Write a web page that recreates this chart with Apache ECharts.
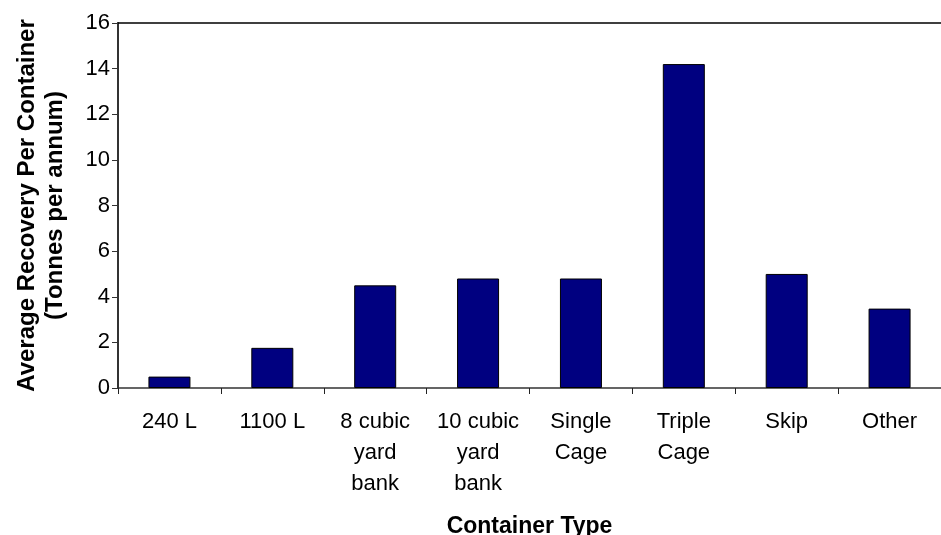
<!DOCTYPE html>
<html>
<head>
<meta charset="utf-8">
<script src="https://cdn.jsdelivr.net/npm/echarts@6/dist/echarts.min.js"></script>
<style>html,body{margin:0;padding:0;background:#fff;}#c{width:941px;height:535px;}</style>
</head>
<body>
<div id="c"></div>
<script>
const categories = ["240 L", "1100 L", "8 cubic\nyard\nbank", "10 cubic\nyard\nbank", "Single\nCage", "Triple\nCage", "Skip", "Other"];
const values = [0.5, 1.76, 4.5, 4.8, 4.8, 14.2, 5.0, 3.48];
const yTicks = { min: 0, max: 16, interval: 2 };
const xTitle = "Container Type";
const yTitle = "Average Recovery Per Container\n(Tonnes per annum)";

const font = "'Liberation Sans', Arial, sans-serif";
const chart = echarts.init(document.getElementById('c'), null, { renderer: 'canvas' });
chart.setOption({
  animation: false,
  backgroundColor: '#fff',
  textStyle: { fontFamily: font },
  grid: { left: 118, top: 23, right: 0, bottom: 147, containLabel: false, outerBoundsMode: 'none' },
  xAxis: [{
    type: 'category',
    data: categories,
    axisLine: { lineStyle: { color: '#333', width: 1.5 } },
    axisTick: { show: true, length: 6, lineStyle: { color: '#222' } },
    axisLabel: { color: '#000', fontSize: 22, fontFamily: font, lineHeight: 31, margin: 18, interval: 0 },
    name: xTitle,
    nameLocation: 'middle',
    nameGap: 127,
    nameTextStyle: { color: '#000', fontSize: 23, fontWeight: 'bold', fontFamily: font }
  }, {
    type: 'category',
    data: categories,
    position: 'top',
    axisLine: { show: true, lineStyle: { color: '#000', width: 1.5 } },
    axisTick: { show: false },
    axisLabel: { show: false }
  }],
  yAxis: {
    type: 'value',
    min: yTicks.min, max: yTicks.max, interval: yTicks.interval,
    axisLine: { show: true, lineStyle: { color: '#333', width: 2 } },
    axisTick: { show: true, length: 6, lineStyle: { color: '#333' } },
    splitLine: { show: false },
    axisLabel: { color: '#000', fontSize: 22, fontFamily: font, margin: 8 },
    name: yTitle,
    nameLocation: 'middle',
    nameGap: 49,
    nameTextStyle: { color: '#000', fontSize: 24, fontWeight: 'bold', fontFamily: font, lineHeight: 28 }
  },
  series: [{
    type: 'bar',
    data: values,
    barWidth: 42,
    itemStyle: { color: '#000080', borderColor: '#000', borderWidth: 1 }
  }]
});
</script>
</body>
</html>
